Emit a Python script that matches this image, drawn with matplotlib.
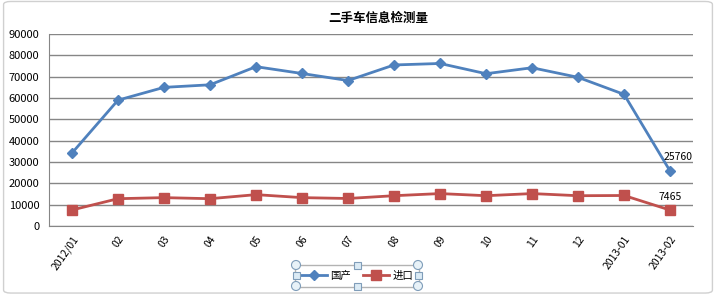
import matplotlib
matplotlib.use('Agg')
import matplotlib.pyplot as plt
from matplotlib.patches import Ellipse, Rectangle, FancyBboxPatch

plt.rcParams['font.family'] = ['Noto Sans CJK SC', 'DejaVu Sans']

# 月份
months = ['2012/01', '02', '03', '04', '05', '06', '07', '08', '09', '10', '11', '12', '2013-01', '2013-02']
domestic = [34200, 59000, 65000, 66200, 74700, 71500, 68200, 75500, 76200, 71400, 74200, 69700, 61700, 25760]
imported = [7500, 12800, 13300, 12800, 14700, 13300, 12900, 14200, 15200, 14200, 15200, 14200, 14300, 7465]
series_names = ['国产', '进口']

fig = plt.figure(figsize=(7.16, 2.96), dpi=100)
ax = fig.add_axes([0.0684, 0.2365, 0.8996, 0.6485])

x = range(len(months))
ax.plot(x, domestic, color='#4F81BD', lw=2, marker='D', ms=5, label=series_names[0])
ax.plot(x, imported, color='#C0504D', lw=2, marker='s', ms=6.5, label=series_names[1])

ax.set_xlim(-0.5, len(months) - 0.5)
ax.set_ylim(0, 90000)
ax.set_yticks(range(0, 90001, 10000))
ax.set_xticks(list(x))
ax.set_xticklabels(months, rotation=55, ha='right', rotation_mode='anchor', fontsize=7.5)
ax.tick_params(axis='y', labelsize=8, length=0, pad=7)
ax.tick_params(axis='x', length=0, pad=6)
ax.grid(axis='y', color='#868686', lw=1)
ax.set_axisbelow(True)
for s in ['top', 'right']:
    ax.spines[s].set_visible(False)
ax.spines['left'].set_color('#868686')
ax.spines['bottom'].set_color('#868686')

# 数据标签
ax.annotate(str(domestic[-1]), (len(months) - 1, domestic[-1]), xytext=(-5, 8),
            textcoords='offset points', fontsize=7.5)
ax.annotate(str(imported[-1]), (len(months) - 1, imported[-1]), xytext=(0, 6),
            textcoords='offset points', fontsize=7.5, ha='center', va='bottom')

fig.suptitle('二手车信息检测量', x=0.528, y=0.96, fontsize=9, fontweight='bold')

leg = fig.legend(loc='center', bbox_to_anchor=(0.4986, 0.0676), ncol=2, fontsize=7.5,
                 frameon=True, fancybox=False, handlelength=2.5, columnspacing=1.2,
                 borderpad=0.55, handletextpad=0.3)
leg.get_frame().set_edgecolor('#A0A0A0')
leg.get_frame().set_linewidth(1)
leg.set_zorder(5)

# 图例选中手柄
W, H = 716, 296
lx0, lx1, ly0, ly1 = 296, 418, 265, 286
for px, py in [(lx0, ly0), (lx1, ly0), (lx0, ly1), (lx1, ly1)]:
    fig.patches.append(Ellipse((px / W, 1 - py / H), 9 / W, 9 / H, transform=fig.transFigure,
                               fc='#E8F2F8', ec='#7F9DB9', lw=0.8, zorder=10))
for px, py in [((lx0 + lx1) / 2, ly0), ((lx0 + lx1) / 2, ly1), (lx0, (ly0 + ly1) / 2), (lx1, (ly0 + ly1) / 2)]:
    fig.patches.append(Rectangle(((px - 3.5) / W, 1 - (py + 3.5) / H), 7 / W, 7 / H,
                                 transform=fig.transFigure, fc='#DCEBF5', ec='#7F9DB9', lw=0.8, zorder=10))

fig.patches.append(FancyBboxPatch((0.005, 0.01), 0.99, 0.985, boxstyle='round,pad=0,rounding_size=0.01',
                                  transform=fig.transFigure, fc='none', ec='#D0D0D0', lw=1))

fig.savefig('out.png', dpi=100)
